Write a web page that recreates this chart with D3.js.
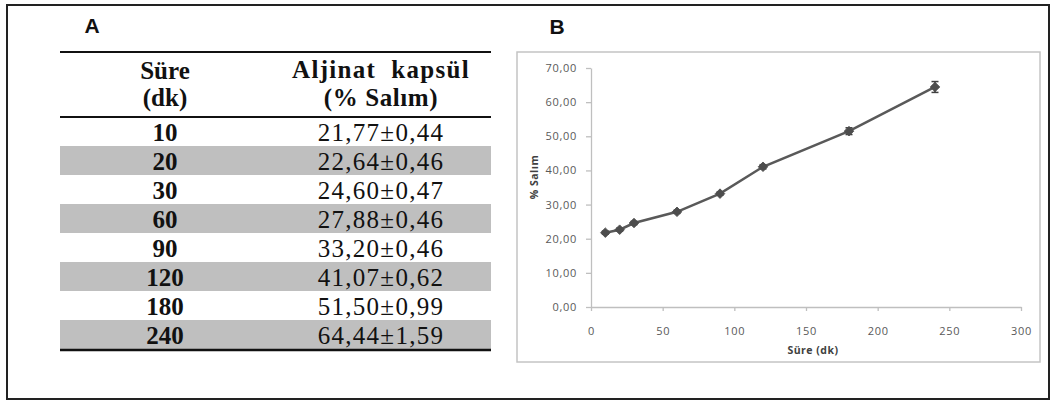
<!DOCTYPE html>
<html>
<head>
<meta charset="utf-8">
<script src="https://cdn.jsdelivr.net/npm/d3@7"></script>
<style>
  html, body { margin: 0; padding: 0; background: #fff; }
  svg { display: block; }
</style>
</head>
<body>
<svg id="fig" width="1052" height="401"></svg>
<script>
// ---- data ----
const times = [10, 20, 30, 60, 90, 120, 180, 240];
const release = [21.77, 22.64, 24.60, 27.88, 33.20, 41.07, 51.50, 64.44];
const errors = [0.44, 0.46, 0.47, 0.46, 0.46, 0.62, 0.99, 1.59];
const headerCol1 = ["Süre", "(dk)"];
const headerCol2 = ["Aljinat  kapsül", "(% Salım)"];
const yTicks = [0, 10, 20, 30, 40, 50, 60, 70];
const xTicks = [0, 50, 100, 150, 200, 250, 300];
const xTitle = "Süre (dk)";
const yTitle = "% Salım";
const panelLabels = ["A", "B"];

const trLocale = d3.formatLocale({decimal: ",", thousands: ".", grouping: [3], currency: ["", "₺"]});
const fmt2 = trLocale.format(".2f");

const svg = d3.select("#fig");

// outer frame
svg.append("rect").attr("x", 7).attr("y", 5).attr("width", 1042).attr("height", 394)
  .attr("fill", "none").attr("stroke", "#222").attr("stroke-width", 2);

// panel labels
svg.append("text").attr("x", 92).attr("y", 33).attr("text-anchor", "middle")
  .attr("font-family", "Liberation Sans, Arial, sans-serif").attr("font-weight", "bold")
  .attr("font-size", 21).attr("fill", "#111").text(panelLabels[0]);
svg.append("text").attr("x", 557).attr("y", 34).attr("text-anchor", "middle")
  .attr("font-family", "Liberation Sans, Arial, sans-serif").attr("font-weight", "bold")
  .attr("font-size", 21).attr("fill", "#111").text(panelLabels[1]);

// ---- Table A ----
const tX0 = 60, tX1 = 491, c1 = 165, c2 = 381;
const rowTop = 117, rowH = 29;
const serif = "Liberation Serif, 'Times New Roman', serif";
const tbl = svg.append("g");

const rowScale = d3.scaleBand().domain(times.map((d, i) => i))
  .range([rowTop, rowTop + rowH * times.length]).padding(0);

tbl.selectAll("rect.band").data(times).join("rect")
  .attr("class", "band")
  .attr("x", tX0).attr("width", tX1 - tX0)
  .attr("y", (d, i) => rowScale(i)).attr("height", rowScale.bandwidth())
  .attr("fill", (d, i) => i % 2 === 1 ? "#bfbfbf" : "none");

tbl.selectAll("text.c1").data(times).join("text")
  .attr("class", "c1")
  .attr("x", c1).attr("y", (d, i) => rowScale(i) + 23.5)
  .attr("text-anchor", "middle").attr("font-family", serif).attr("font-weight", "bold")
  .attr("font-size", 25).attr("fill", "#111").text(d => d);

tbl.selectAll("text.c2").data(times).join("text")
  .attr("class", "c2")
  .attr("x", c2).attr("y", (d, i) => rowScale(i) + 23.5)
  .attr("text-anchor", "middle").attr("font-family", serif)
  .attr("font-size", 25).attr("fill", "#111").attr("letter-spacing", 1.3)
  .text((d, i) => fmt2(release[i]) + "±" + fmt2(errors[i]));

headerCol1.forEach((t, i) => {
  tbl.append("text").attr("x", c1).attr("y", 79 + i * 27)
    .attr("text-anchor", "middle").attr("font-family", serif).attr("font-weight", "bold")
    .attr("font-size", 25).attr("fill", "#111").text(t);
});
headerCol2.forEach((t, i) => {
  tbl.append("text").attr("x", c2).attr("y", 78 + i * 28)
    .attr("text-anchor", "middle").attr("font-family", serif).attr("font-weight", "bold")
    .attr("font-size", 25).attr("fill", "#111").attr("letter-spacing", i === 0 ? 1.3 : 0.6)
    .attr("xml:space", "preserve").style("white-space", "pre").text(t);
});

// table rules
[[52, 2], [117, 2], [350, 2.5]].forEach(([yy, w]) => {
  tbl.append("line").attr("x1", tX0).attr("x2", tX1).attr("y1", yy).attr("y2", yy)
    .attr("stroke", "#111").attr("stroke-width", w);
});

// ---- Chart B ----
const sans = "'Open Sans', 'DejaVu Sans', sans-serif";
svg.append("rect").attr("x", 517).attr("y", 52).attr("width", 523).attr("height", 310)
  .attr("fill", "#fff").attr("stroke", "#c4c4c4").attr("stroke-width", 1.5);

const x = d3.scaleLinear().domain([0, 300]).range([591, 1021]);
const y = d3.scaleLinear().domain([0, 70]).range([307, 68]);

const yAxis = svg.append("g").attr("transform", `translate(${x(0)},0)`)
  .call(d3.axisLeft(y).tickValues(yTicks).tickSize(5).tickSizeOuter(0).tickPadding(9).tickFormat(fmt2));
const xAxis = svg.append("g").attr("transform", `translate(0,${y(0)})`)
  .call(d3.axisBottom(x).tickValues(xTicks).tickSize(4).tickSizeOuter(0).tickPadding(16).tickFormat(d3.format("d")));

[yAxis, xAxis].forEach(a => {
  a.select(".domain").attr("stroke", "#bfbfbf").attr("stroke-width", 1.3);
  a.selectAll(".tick line").attr("stroke", "#bfbfbf").attr("stroke-width", 1.3);
  a.selectAll(".tick text").attr("fill", "#595959").attr("font-family", sans)
    .attr("font-size", 11).attr("letter-spacing", 0.7);
});

// axis titles
svg.append("text").attr("x", 813).attr("y", 354).attr("text-anchor", "middle")
  .attr("font-family", sans).attr("font-weight", "bold").attr("font-size", 10.5)
  .attr("letter-spacing", 0.5).attr("fill", "#404040").text(xTitle);
svg.append("text").attr("transform", "translate(538,177) rotate(-90)").attr("text-anchor", "middle")
  .attr("font-family", sans).attr("font-weight", "bold").attr("font-size", 10.5)
  .attr("letter-spacing", 0.5).attr("fill", "#404040").text(yTitle);

const pts = times.map((t, i) => ({t, v: release[i], e: errors[i]}));

// error bars
const eb = svg.append("g").attr("stroke", "#404040").attr("stroke-width", 1.5);
eb.selectAll("line.v").data(pts).join("line").attr("class", "v")
  .attr("x1", d => x(d.t)).attr("x2", d => x(d.t))
  .attr("y1", d => y(d.v - d.e)).attr("y2", d => y(d.v + d.e));
eb.selectAll("line.top").data(pts).join("line").attr("class", "top")
  .attr("x1", d => x(d.t) - 3.5).attr("x2", d => x(d.t) + 3.5)
  .attr("y1", d => y(d.v + d.e)).attr("y2", d => y(d.v + d.e));
eb.selectAll("line.bot").data(pts).join("line").attr("class", "bot")
  .attr("x1", d => x(d.t) - 3.5).attr("x2", d => x(d.t) + 3.5)
  .attr("y1", d => y(d.v - d.e)).attr("y2", d => y(d.v - d.e));

// line
svg.append("path").datum(pts)
  .attr("d", d3.line().x(d => x(d.t)).y(d => y(d.v)))
  .attr("fill", "none").attr("stroke", "#595959").attr("stroke-width", 2.5);

// markers (diamonds)
svg.selectAll("path.mk").data(pts).join("path").attr("class", "mk")
  .attr("d", d3.symbol(d3.symbolSquare, 46))
  .attr("transform", d => `translate(${x(d.t)},${y(d.v)}) rotate(45)`)
  .attr("fill", "#4d4d4d").attr("stroke", "#4d4d4d").attr("stroke-width", 0.8);
</script>
</body>
</html>
